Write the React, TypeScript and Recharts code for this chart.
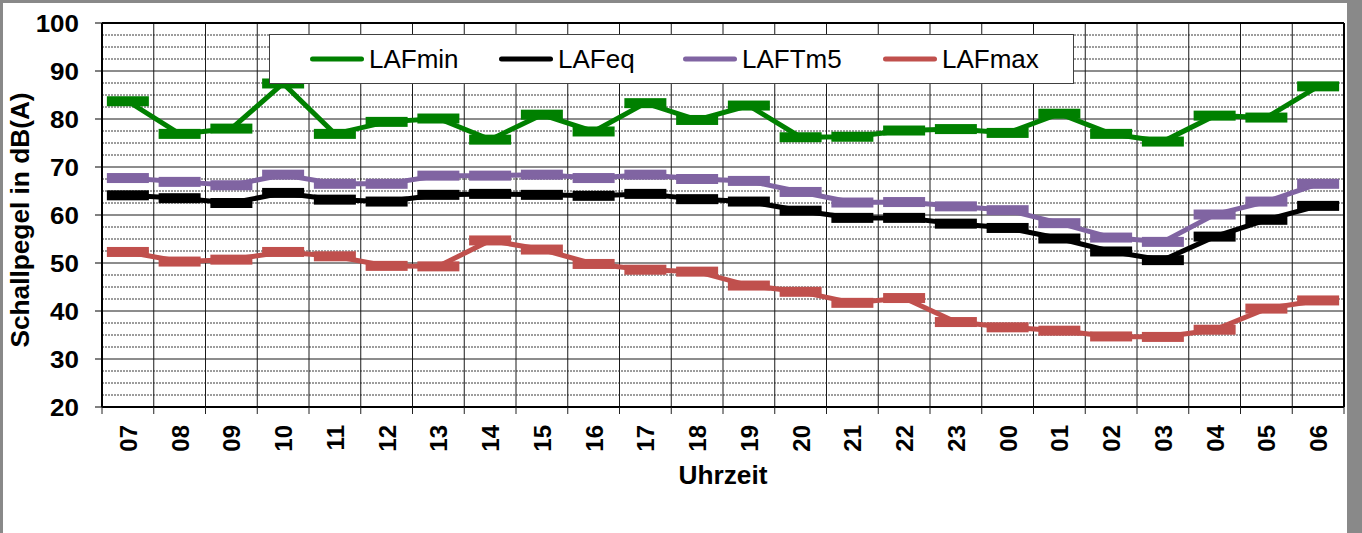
import { LineChart, Line, XAxis, YAxis, CartesianGrid, Legend, ReferenceLine } from 'recharts';

const HOURS = ['07', '08', '09', '10', '11', '12', '13', '14', '15', '16', '17', '18', '19', '20', '21', '22', '23', '00', '01', '02', '03', '04', '05', '06'];

const LAF_MIN = [83.7, 76.9, 78.0, 87.4, 76.9, 79.4, 80.1, 75.7, 80.9, 77.4, 83.3, 79.8, 82.8, 76.2, 76.3, 77.6, 77.9, 77.1, 81.1, 76.9, 75.3, 80.7, 80.3, 86.8];
const LAF_EQ = [64.1, 63.5, 62.5, 64.6, 63.2, 62.8, 64.2, 64.4, 64.2, 64.0, 64.4, 63.3, 62.8, 60.9, 59.4, 59.4, 58.2, 57.3, 55.1, 52.4, 50.6, 55.5, 59.0, 61.9];
const LAF_TM5 = [67.7, 66.9, 66.2, 68.4, 66.5, 66.5, 68.2, 68.2, 68.4, 67.7, 68.4, 67.5, 67.1, 64.8, 62.6, 62.7, 61.8, 61.0, 58.3, 55.3, 54.4, 60.1, 62.8, 66.5];
const LAF_MAX = [52.3, 50.3, 50.7, 52.3, 51.4, 49.4, 49.3, 54.7, 52.8, 49.8, 48.6, 48.2, 45.3, 44.0, 41.7, 42.7, 37.7, 36.6, 35.9, 34.7, 34.6, 36.1, 40.5, 42.2];

const Y_TICKS = [20, 30, 40, 50, 60, 70, 80, 90, 100];
// dotted helper lines every 2.5 dB between the labelled ticks
const MINOR_TICKS = Y_TICKS.slice(0, -1).flatMap((t) => [t + 2.5, t + 5, t + 7.5]);
// hour slot boundaries: 0 .. 24
const SLOT_EDGES = HOURS.map((_, i) => i).concat(HOURS.length);

const SERIES = [
  { key: 'LAFmin', color: '#008000' },
  { key: 'LAFeq', color: '#000000' },
  { key: 'LAFTm5', color: '#8064A2' },
  { key: 'LAFmax', color: '#C0504D' },
];

const rows = HOURS.map((hour, i) => ({
  slot: i + 0.5,
  hour,
  LAFmin: LAF_MIN[i],
  LAFeq: LAF_EQ[i],
  LAFTm5: LAF_TM5[i],
  LAFmax: LAF_MAX[i],
}));

const W = 1362;
const H = 533;
const MARGIN = { top: 23, right: 18, bottom: 66, left: 0 };
const Y_AXIS_W = 102;
const X_AXIS_H = 60;
const PLOT_W = W - MARGIN.left - MARGIN.right - Y_AXIS_W;
const SLOT_W = PLOT_W / HOURS.length;
const FONT = '"Liberation Sans", Arial, Helvetica, sans-serif';
const LEGEND_X = [41, 230, 414, 614];

function SlotMarker(props: any) {
  const { cx, cy, color } = props;
  if (cx == null || cy == null) return null;
  return <rect x={cx - 21} y={cy - 5} width={42} height={10} fill={color} />;
}

function HourTick(props: any) {
  const { x, y, payload } = props;
  const label = HOURS[payload.value];
  if (label === undefined) return null;
  const tx = x + SLOT_W / 2 + 9;
  return (
    <text
      x={tx}
      y={y}
      transform={`rotate(-90 ${tx} ${y})`}
      textAnchor="end"
      fontFamily={FONT}
      fontWeight="bold"
      fontSize={24}
      fill="#000"
    >
      {label}
    </text>
  );
}

function LevelTick(props: any) {
  const { x, y, payload } = props;
  return (
    <text
      transform={`translate(${x} ${y + 9}) scale(1.13 1)`}
      textAnchor="end"
      fontFamily={FONT}
      fontWeight="bold"
      fontSize={23}
      fill="#000"
    >
      {payload.value}
    </text>
  );
}

function LevelLabel(props: any) {
  const { x, y, height } = props.viewBox;
  return (
    <text
      transform={`translate(${x + 29} ${y + height / 2 + 5}) rotate(-90) scale(1.05 1)`}
      textAnchor="middle"
      fontFamily={FONT}
      fontWeight="bold"
      fontSize={25}
      fill="#000"
    >
      Schallpegel in dB(A)
    </text>
  );
}

function TimeLabel(props: any) {
  const { x, y, width } = props.viewBox;
  return (
    <text
      transform={`translate(${x + width / 2} ${y + 77}) scale(1.05 1)`}
      textAnchor="middle"
      fontFamily={FONT}
      fontWeight="bold"
      fontSize={25}
      fill="#000"
    >
      Uhrzeit
    </text>
  );
}

function LegendBox(props: any) {
  const payload = props.payload ?? [];
  const ordered = SERIES.map((s) => payload.find((p: any) => p.value === s.key) ?? { value: s.key, color: s.color });
  return (
    <div
      style={{
        position: 'relative',
        width: 805,
        height: 50,
        boxSizing: 'border-box',
        border: '1px solid #404040',
        background: '#fff',
      }}
    >
      {ordered.map((p: any, i: number) => (
        <div
          key={p.value}
          style={{ position: 'absolute', left: LEGEND_X[i] - 1, top: 0, height: 48, display: 'flex', alignItems: 'center' }}
        >
          <svg width={54} height={8} style={{ display: 'block' }}>
            <line x1={2.5} y1={4} x2={51.5} y2={4} stroke={p.color} strokeWidth={5} strokeLinecap="round" />
          </svg>
          <span style={{ marginLeft: 5, fontFamily: FONT, fontSize: 26, color: '#000', lineHeight: 'normal' }}>
            {p.value}
          </span>
        </div>
      ))}
    </div>
  );
}

export default function App() {
  return (
    <div style={{ position: 'absolute', left: 0, top: 0, width: W, height: H, background: '#898989', overflow: 'hidden' }}>
      <div style={{ position: 'absolute', left: 3, top: 3, width: 1344, height: H, background: '#fff' }} />
      <div style={{ position: 'absolute', left: 0, top: 0 }}>
        <LineChart width={W} height={H} data={rows} margin={MARGIN}>
          <CartesianGrid vertical={false} horizontalValues={MINOR_TICKS} stroke="#3a3a3a" strokeDasharray="2 1" />
          <CartesianGrid stroke="#1a1a1a" />
          <XAxis
            dataKey="slot"
            type="number"
            domain={[0, 24]}
            ticks={SLOT_EDGES}
            interval={0}
            height={X_AXIS_H}
            tickSize={7}
            tickMargin={11}
            tick={<HourTick />}
            tickLine={{ stroke: '#222' }}
            axisLine={{ stroke: '#000', strokeWidth: 2 }}
            label={<TimeLabel />}
          />
          <YAxis
            type="number"
            domain={[20, 100]}
            ticks={Y_TICKS}
            interval={0}
            width={Y_AXIS_W}
            tickSize={7}
            tickMargin={16}
            tick={<LevelTick />}
            tickLine={{ stroke: '#000' }}
            axisLine={{ stroke: '#000', strokeWidth: 2 }}
            label={<LevelLabel />}
          />
          <ReferenceLine y={100} stroke="#000" strokeWidth={2} />
          <ReferenceLine x={24} stroke="#000" strokeWidth={2} />
          {SERIES.map((s) => (
            <Line
              key={s.key}
              dataKey={s.key}
              name={s.key}
              type="linear"
              stroke={s.color}
              strokeWidth={5}
              dot={<SlotMarker color={s.color} />}
              activeDot={false}
              isAnimationActive={false}
            />
          ))}
          <Legend
            verticalAlign="middle"
            align="center"
            layout="horizontal"
            content={<LegendBox />}
            wrapperStyle={{ left: 269, top: 34, width: 805, height: 50 }}
          />
        </LineChart>
      </div>
    </div>
  );
}
